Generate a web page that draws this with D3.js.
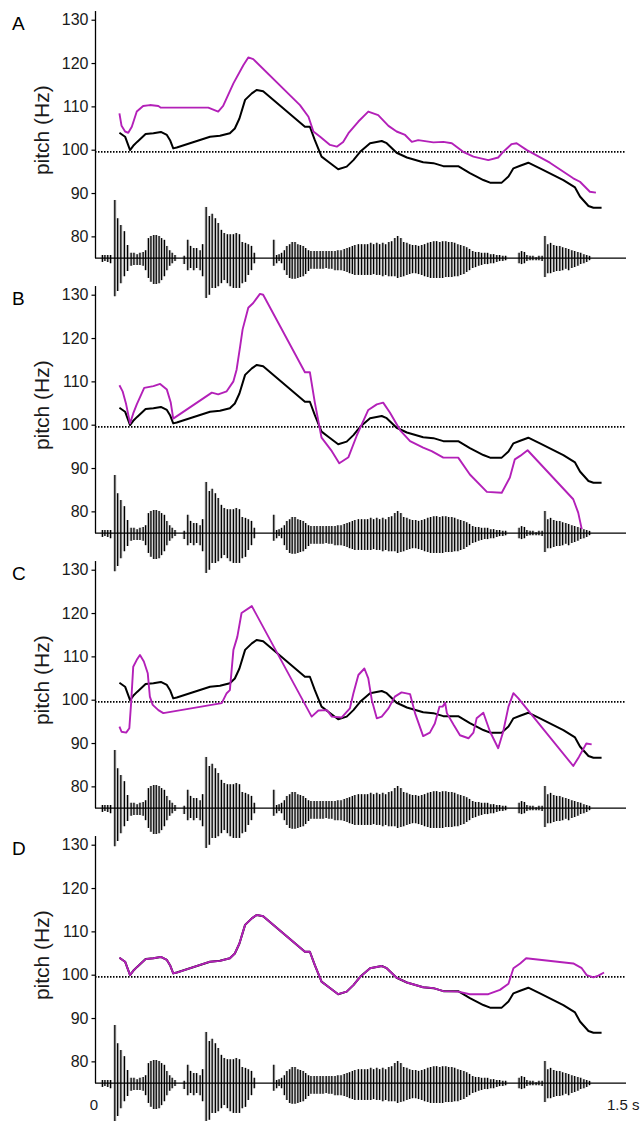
<!DOCTYPE html>
<html><head><meta charset="utf-8">
<script src="https://cdn.jsdelivr.net/npm/d3@7"></script>
<style>body{margin:0;background:#fff}svg{display:block}</style>
</head><body>
<svg id="c" width="640" height="1121"></svg>
<script>
// ---------------- data ----------------
const panelLabels = ["A", "B", "C", "D"];
const yTickValues = [80, 90, 100, 110, 120, 130];
const xTickLabels = ["0", "1.5 s"];
const xTickValues = [0, 1.5];
const referenceLevel = 99.5;

// original (black) pitch contour: [time s, Hz]
const blackContour = [[0.069,103.9],[0.085,103.0],[0.099,99.9],[0.108,100.9],[0.119,101.8],[0.143,103.6],[0.165,103.8],[0.186,104.1],[0.203,103.4],[0.212,102.2],[0.221,100.3],[0.231,100.5],[0.325,103.0],[0.353,103.2],[0.381,103.8],[0.395,104.9],[0.408,107.2],[0.424,111.5],[0.443,113.0],[0.457,113.8],[0.475,113.5],[0.593,105.3],[0.607,105.3],[0.621,102.2],[0.640,98.4],[0.659,97.2],[0.687,95.5],[0.711,96.1],[0.730,97.6],[0.749,99.5],[0.777,101.5],[0.810,102.0],[0.824,101.5],[0.852,99.3],[0.881,98.2],[0.927,97.1],[0.956,96.9],[0.984,96.2],[1.026,96.2],[1.059,94.6],[1.097,93.0],[1.116,92.4],[1.149,92.4],[1.168,93.8],[1.182,95.7],[1.201,96.3],[1.224,97.0],[1.257,95.7],[1.323,93.0],[1.356,91.3],[1.370,89.2],[1.394,87.0],[1.408,86.6],[1.431,86.6]];

// manipulated (magenta) contours per panel
const magentaA = [[0.069,108.4],[0.075,105.5],[0.085,104.2],[0.094,103.9],[0.104,105.3],[0.118,108.8],[0.136,110.1],[0.155,110.3],[0.179,110.1],[0.186,109.7],[0.320,109.7],[0.348,108.8],[0.362,110.1],[0.391,115.3],[0.419,119.5],[0.433,121.3],[0.447,120.9],[0.579,110.3],[0.603,107.6],[0.617,104.2],[0.636,103.0],[0.664,101.1],[0.683,100.7],[0.701,101.8],[0.716,103.8],[0.744,106.5],[0.772,108.8],[0.800,108.0],[0.829,105.5],[0.852,104.2],[0.876,103.4],[0.895,101.8],[0.913,102.2],[0.956,101.7],[0.984,101.8],[1.008,101.5],[1.040,99.5],[1.069,98.4],[1.111,97.6],[1.139,98.2],[1.153,99.5],[1.177,101.3],[1.191,101.5],[1.220,99.9],[1.285,97.0],[1.351,93.4],[1.370,92.6],[1.398,90.3],[1.415,90.1]];

const magentaB = [[0.069,109.1],[0.078,107.7],[0.088,104.7],[0.099,100.3],[0.108,102.6],[0.118,104.7],[0.139,108.5],[0.165,108.9],[0.184,109.4],[0.203,108.1],[0.214,105.1],[0.221,101.4],[0.330,107.4],[0.348,107.0],[0.372,107.7],[0.391,110.0],[0.400,112.7],[0.410,118.1],[0.417,122.0],[0.433,127.0],[0.447,128.1],[0.466,130.2],[0.475,130.0],[0.593,112.1],[0.607,112.1],[0.621,105.1],[0.640,97.0],[0.669,93.9],[0.690,91.1],[0.716,92.5],[0.739,97.4],[0.772,103.4],[0.796,104.7],[0.814,105.1],[0.833,102.8],[0.862,98.7],[0.890,96.2],[0.927,94.7],[0.951,93.9],[0.984,92.4],[1.026,92.4],[1.059,88.5],[1.107,84.5],[1.149,84.3],[1.172,87.8],[1.186,92.0],[1.201,92.8],[1.222,94.1],[1.351,82.8],[1.365,79.7],[1.375,75.9]];

const magentaC = [[0.069,93.8],[0.075,92.6],[0.088,92.4],[0.097,93.4],[0.102,99.2],[0.108,107.6],[0.118,109.2],[0.127,110.3],[0.138,108.8],[0.149,106.1],[0.155,100.7],[0.163,98.8],[0.179,97.6],[0.193,96.9],[0.358,99.2],[0.372,101.5],[0.381,102.2],[0.391,111.5],[0.402,114.5],[0.414,120.0],[0.443,121.6],[0.612,96.1],[0.631,97.5],[0.655,97.6],[0.669,96.1],[0.697,95.9],[0.720,98.0],[0.730,101.5],[0.744,105.7],[0.761,107.2],[0.772,104.9],[0.782,99.9],[0.796,95.7],[0.810,96.1],[0.829,98.0],[0.847,100.7],[0.866,101.7],[0.890,101.3],[0.904,96.9],[0.927,91.6],[0.946,92.4],[0.960,94.5],[0.973,98.4],[0.982,98.4],[0.989,99.3],[0.994,96.9],[1.013,94.2],[1.031,91.8],[1.055,91.1],[1.069,92.4],[1.078,95.7],[1.097,97.0],[1.116,92.6],[1.139,88.8],[1.153,92.6],[1.168,98.4],[1.182,101.5],[1.196,100.3],[1.351,84.7],[1.367,86.8],[1.388,89.9],[1.403,89.7]];

const magentaD = [[0.069,103.9],[0.085,103.0],[0.099,99.9],[0.108,100.9],[0.119,101.8],[0.143,103.6],[0.165,103.8],[0.186,104.1],[0.203,103.4],[0.212,102.2],[0.221,100.3],[0.231,100.5],[0.325,103.0],[0.353,103.2],[0.381,103.8],[0.395,104.9],[0.408,107.2],[0.424,111.5],[0.443,113.0],[0.457,113.8],[0.475,113.5],[0.593,105.3],[0.607,105.3],[0.621,102.2],[0.640,98.4],[0.659,97.2],[0.687,95.5],[0.711,96.1],[0.730,97.6],[0.749,99.5],[0.777,101.5],[0.810,102.0],[0.824,101.5],[0.852,99.3],[0.881,98.2],[0.927,97.1],[0.956,96.9],[0.984,96.2],[1.026,96.1],[1.059,95.5],[1.111,95.5],[1.144,96.5],[1.168,97.9],[1.182,101.5],[1.201,102.6],[1.218,103.8],[1.351,102.6],[1.375,101.5],[1.389,99.9],[1.408,99.4],[1.422,99.8],[1.438,100.5]];

const magentaSeries = [magentaA, magentaB, magentaC, magentaD];

// waveform pulses: time (s), positive and negative excursion (in Hz-axis units above/below 75)
const waveTime = [0.021,0.028,0.036,0.044,0.056,0.064,0.073,0.083,0.092,0.102,0.110,0.119,0.127,0.136,0.143,0.151,0.158,0.166,0.173,0.181,0.188,0.196,0.203,0.211,0.218,0.226,0.252,0.262,0.270,0.279,0.287,0.297,0.304,0.314,0.323,0.331,0.340,0.348,0.357,0.365,0.374,0.382,0.391,0.399,0.408,0.416,0.425,0.433,0.442,0.450,0.505,0.513,0.520,0.527,0.535,0.542,0.550,0.557,0.565,0.573,0.580,0.588,0.595,0.603,0.610,0.619,0.627,0.636,0.644,0.653,0.661,0.669,0.678,0.686,0.695,0.704,0.712,0.719,0.727,0.734,0.744,0.753,0.762,0.770,0.779,0.787,0.796,0.804,0.813,0.821,0.830,0.838,0.847,0.855,0.864,0.872,0.881,0.889,0.897,0.906,0.914,0.923,0.931,0.940,0.948,0.957,0.965,0.974,0.982,0.991,0.999,1.008,1.016,1.025,1.033,1.042,1.050,1.058,1.067,1.075,1.084,1.092,1.101,1.109,1.118,1.126,1.135,1.143,1.152,1.160,1.198,1.205,1.213,1.220,1.229,1.237,1.246,1.254,1.263,1.271,1.279,1.287,1.296,1.304,1.313,1.321,1.330,1.338,1.347,1.355,1.364,1.372,1.381,1.389,1.397];
const waveUp = [0.7,0.7,0.7,0.7,13.4,9.2,7.6,6.2,3.0,1.2,1.2,0.9,1.2,1.4,1.8,4.6,5.1,5.3,5.3,5.1,4.6,4.2,2.8,1.8,1.2,0.7,0.5,4.2,2.8,2.3,2.3,1.8,3.2,11.8,9.7,10.2,9.2,8.1,6.5,5.8,5.5,5.5,5.5,5.8,5.5,3.7,3.5,3.2,2.8,1.2,4.2,0.7,0.9,1.2,1.8,2.8,3.2,3.7,3.7,3.2,3.0,2.8,2.3,1.8,1.6,1.6,1.6,1.6,1.6,1.6,1.6,1.6,1.6,1.8,1.8,2.1,2.3,2.5,2.8,3.0,3.2,3.2,3.2,3.2,3.5,3.2,3.5,3.2,3.5,3.2,3.7,3.9,4.6,5.1,4.6,3.7,3.5,3.2,3.0,3.0,2.8,3.0,3.2,3.5,3.7,3.9,3.9,3.7,3.9,3.9,3.7,3.7,3.5,3.2,3.0,2.8,2.5,2.1,1.6,1.4,1.4,1.2,1.2,1.2,0.9,0.9,0.7,0.7,0.5,0.5,1.2,1.6,1.4,0.7,0.5,0.5,0.2,0.5,0.5,5.1,3.2,3.5,3.0,2.8,2.8,2.5,2.3,2.1,1.8,1.6,1.4,1.2,0.9,0.7,0.5];
const waveDown = [0.9,0.7,0.9,1.2,8.8,7.6,5.8,4.2,3.0,1.8,1.6,1.6,1.6,1.8,2.8,4.6,5.5,6.0,6.0,5.8,5.1,4.2,2.8,1.8,1.2,0.7,1.4,2.8,2.3,2.8,2.3,2.8,4.2,9.2,8.5,6.9,6.9,6.5,5.8,5.1,5.8,6.5,6.9,6.9,6.9,5.8,5.5,3.9,2.8,1.2,1.8,1.2,0.7,1.2,2.8,3.9,4.6,4.8,4.8,4.6,4.4,4.2,3.7,3.0,2.5,2.5,2.5,2.5,2.5,2.3,2.5,2.5,2.8,2.8,2.8,3.0,3.2,3.5,3.7,3.9,3.9,3.9,3.9,3.9,3.9,3.7,3.9,3.9,4.2,3.9,4.2,4.2,4.2,4.6,4.4,4.2,3.9,3.7,3.5,3.5,3.7,3.9,4.2,4.4,4.6,4.6,4.6,4.6,4.6,4.4,4.4,4.4,4.2,4.2,3.9,3.7,3.2,2.8,2.3,2.1,1.8,1.6,1.4,1.4,1.2,1.2,0.9,0.7,0.7,0.5,1.2,1.4,1.2,0.7,0.5,0.5,0.5,0.5,0.7,4.4,3.5,3.5,3.2,3.0,3.0,2.8,2.5,2.8,2.3,2.1,1.8,1.4,1.2,0.9,0.5];

// ---------------- drawing ----------------
const svg = d3.select("#c");
const font = "'Liberation Sans', Arial, Helvetica, sans-serif";
const magentaColor = "#b320b8";
const pxPerHz = 4.333;
const x = d3.scaleLinear().domain([0, 1.5]).range([95, 626]);

panelLabels.forEach((lab, i) => {
  const y100 = 149.7 + 275 * i;
  const y = d3.scaleLinear().domain([75, 132]).range([y100 + 25 * pxPerHz, y100 - 32 * pxPerHz]);
  const g = svg.append("g");

  // waveform
  const wave = waveTime.map((t, j) => ({ t, up: waveUp[j], dn: waveDown[j] }));
  g.append("g").selectAll("rect").data(wave).join("rect")
    .attr("x", d => x(d.t) - 1.6).attr("width", 3.2)
    .attr("y", d => y(75 + d.up)).attr("height", d => y(75 - d.dn) - y(75 + d.up))
    .attr("fill", "#cfcfcf");
  g.append("g").selectAll("line").data(wave).join("line")
    .attr("x1", d => x(d.t)).attr("x2", d => x(d.t))
    .attr("y1", d => y(75 + d.up)).attr("y2", d => y(75 - d.dn))
    .attr("stroke", "#000").attr("stroke-width", 1.25);

  // baseline (x axis)
  g.append("line").attr("x1", x(0)).attr("x2", x(1.5))
    .attr("y1", y(75)).attr("y2", y(75)).attr("stroke", "#000").attr("stroke-width", 1.3);

  // y axis
  const axis = d3.axisLeft(y).tickValues(yTickValues).tickSize(4).tickPadding(3).tickFormat(d3.format("d"));
  const ax = g.append("g").attr("transform", `translate(${x(0) + 0.5},0)`).call(axis);
  ax.select(".domain").attr("d", `M0,${y(132)}V${y(75)}`).attr("stroke", "#000").attr("stroke-width", 1.3);
  ax.selectAll(".tick line").attr("stroke", "#000").attr("stroke-width", 1.2);
  ax.selectAll(".tick text").attr("font-family", font).attr("font-size", 16).attr("fill", "#1a1a1a");

  // y label
  g.append("text").attr("transform", `translate(49,${y(104.5)}) rotate(-90)`)
    .attr("text-anchor", "middle").attr("font-family", font).attr("font-size", 21).attr("fill", "#1a1a1a")
    .text("pitch (Hz)");

  // panel letter
  g.append("text").attr("x", 12).attr("y", y100 - 120)
    .attr("font-family", font).attr("font-size", 19).attr("fill", "#000").text(lab);

  // reference dotted line
  g.append("line").attr("x1", x(0)).attr("x2", x(1.5))
    .attr("y1", y(referenceLevel)).attr("y2", y(referenceLevel))
    .attr("stroke", "#000").attr("stroke-width", 1.6).attr("stroke-dasharray", "1.5,1.5");

  const line = d3.line().x(d => x(d[0])).y(d => y(d[1]));
  g.append("path").attr("d", line(blackContour)).attr("fill", "none")
    .attr("stroke", "#000").attr("stroke-width", 2).attr("stroke-linejoin", "round");
  g.append("path").attr("d", line(magentaSeries[i])).attr("fill", "none")
    .attr("stroke", magentaColor).attr("stroke-width", 1.9).attr("stroke-linejoin", "round");

  if (i === panelLabels.length - 1) {
    g.append("text").attr("x", x(xTickValues[0]) - 1).attr("y", 1110).attr("text-anchor", "middle")
      .attr("font-family", font).attr("font-size", 15).attr("fill", "#1a1a1a").text(xTickLabels[0]);
    g.append("text").attr("x", x(xTickValues[1]) - 19).attr("y", 1110).attr("text-anchor", "start")
      .attr("font-family", font).attr("font-size", 15).attr("fill", "#1a1a1a").text(xTickLabels[1]);
  }
});
</script>
</body></html>
